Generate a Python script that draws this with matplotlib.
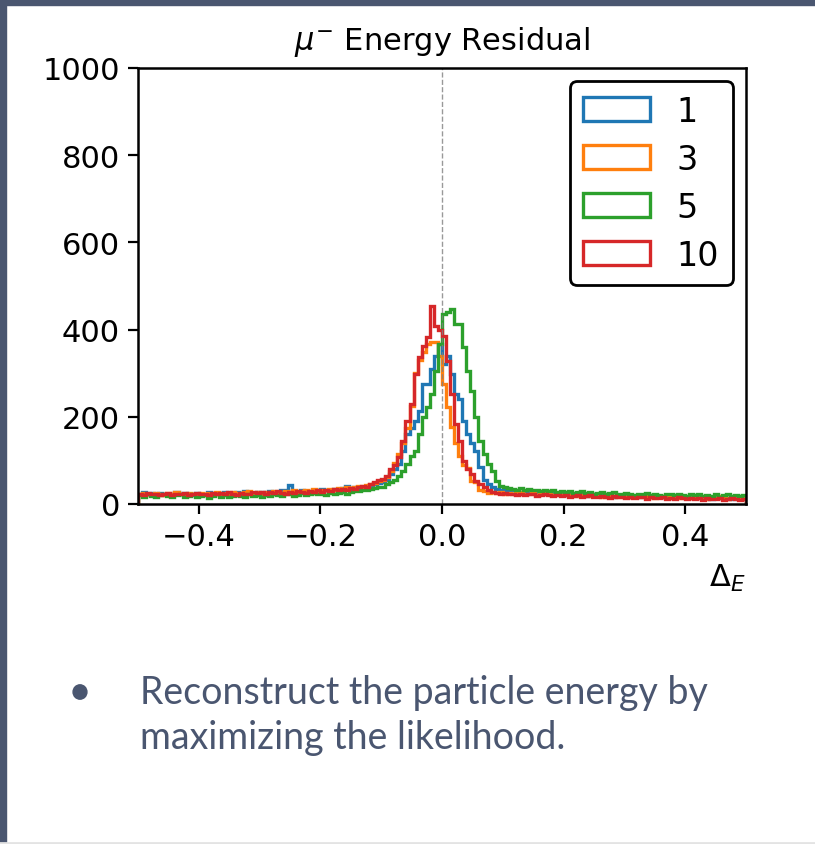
import numpy as np
import matplotlib
matplotlib.use("Agg")
import matplotlib.pyplot as plt
from matplotlib.patches import Rectangle, Circle
from matplotlib.lines import Line2D

# Histogram counts (150 bins on [-0.5, 0.5])
bin_edges = np.linspace(-0.5, 0.5, 151)

counts_1 = [
    24, 27, 22, 25, 21, 26, 23, 20, 24, 27, 22, 25, 23, 21, 26,
    24, 22, 27, 25, 23, 26, 28, 24, 22, 27, 25, 29, 26, 24, 28,
    27, 25, 30, 28, 26, 31, 33, 43, 29, 27, 32, 30, 28, 33, 31,
    34, 32, 30, 35, 33, 36, 41, 34, 38, 36, 40, 38, 42, 45, 47,
    50, 55, 69, 80, 92, 121, 160, 175, 190, 213, 275, 275, 309, 340, 366,
    321, 339, 298, 252, 240, 190, 160, 140, 121, 85, 55, 45, 39, 35, 33,
    31, 29, 32, 28, 26, 29, 27, 25, 28, 24, 26, 23, 25, 22, 24,
    21, 23, 20, 24, 22, 19, 21, 23, 18, 20, 22, 19, 17, 21, 18,
    20, 17, 19, 16, 18, 20, 15, 17, 19, 16, 14, 18, 16, 15, 17,
    14, 16, 13, 15, 17, 14, 12, 15, 13, 16, 14, 12, 15, 13, 14,
]

counts_3 = [
    22, 25, 23, 20, 26, 24, 21, 25, 22, 27, 23, 20, 25, 24, 22,
    26, 23, 25, 21, 27, 24, 26, 22, 28, 25, 23, 27, 30, 25, 27,
    24, 28, 26, 29, 27, 25, 30, 28, 31, 27, 29, 32, 28, 34, 30,
    33, 31, 35, 32, 36, 34, 38, 36, 40, 42, 39, 44, 46, 49, 52,
    55, 62, 75, 95, 115, 140, 175, 225, 300, 330, 348, 367, 371, 371, 340,
    275, 222, 176, 140, 110, 90, 82, 53, 50, 32, 30, 26, 28, 25, 27,
    24, 26, 23, 25, 27, 22, 24, 26, 21, 23, 25, 22, 20, 23, 21,
    24, 20, 22, 19, 21, 23, 18, 20, 22, 17, 19, 21, 18, 16, 19,
    17, 20, 16, 18, 15, 19, 17, 14, 18, 16, 21, 15, 17, 14, 16,
    15, 13, 17, 14, 16, 12, 15, 13, 18, 14, 12, 16, 13, 11, 14,
]

counts_5 = [
    20, 17, 23, 19, 16, 21, 24, 18, 15, 20, 22, 17, 19, 23, 16,
    18, 21, 14, 19, 22, 17, 20, 15, 18, 21, 19, 16, 22, 18, 20,
    17, 21, 19, 23, 20, 18, 22, 24, 19, 21, 25, 20, 23, 26, 22,
    24, 21, 26, 23, 25, 28, 24, 27, 30, 29, 31, 33, 34, 36, 38,
    40, 45, 50, 55, 65, 76, 92, 110, 121, 160, 199, 222, 252, 305, 366,
    435, 440, 447, 412, 412, 360, 305, 259, 199, 144, 115, 92, 76, 53, 41,
    39, 37, 35, 33, 36, 32, 34, 31, 33, 30, 32, 29, 31, 28, 30,
    27, 29, 26, 28, 30, 25, 27, 24, 26, 28, 23, 25, 27, 24, 22,
    25, 23, 21, 24, 22, 26, 20, 23, 21, 19, 24, 22, 20, 23, 21,
    19, 22, 20, 24, 18, 21, 19, 23, 17, 20, 22, 18, 21, 19, 20,
]

counts_10 = [
    23, 21, 25, 22, 24, 20, 23, 26, 21, 24, 22, 25, 20, 23, 26,
    22, 24, 21, 26, 23, 25, 22, 27, 24, 21, 26, 24, 23, 27, 25,
    28, 24, 27, 25, 29, 26, 24, 28, 26, 30, 27, 25, 29, 27, 31,
    28, 32, 30, 34, 31, 35, 33, 37, 35, 39, 42, 40, 45, 50, 55,
    58, 65, 80, 90, 107, 144, 190, 229, 297, 337, 362, 382, 454, 408, 400,
    385, 327, 252, 183, 144, 98, 80, 68, 53, 45, 39, 33, 28, 26, 24,
    25, 22, 24, 21, 23, 20, 22, 24, 19, 21, 23, 20, 18, 21, 19,
    20, 17, 19, 21, 16, 18, 20, 15, 17, 19, 16, 14, 18, 15, 17,
    14, 16, 13, 17, 15, 12, 16, 14, 13, 15, 11, 14, 12, 15, 13,
    12, 14, 11, 13, 10, 14, 12, 11, 13, 10, 12, 14, 11, 10, 12,
]

series = [("1", counts_1), ("3", counts_3), ("5", counts_5), ("10", counts_10)]

x_ticks = [-0.4, -0.2, 0.0, 0.2, 0.4]
y_ticks = [0, 200, 400, 600, 800, 1000]

bullet_lines = ["Reconstruct the particle energy by", "maximizing the likelihood."]

slate = "#4a5670"

fig = plt.figure(figsize=(8.15, 8.45), dpi=100)
ax = fig.add_axes([0.1693, 0.4024, 0.746, 0.516])

fs = 22
for label, counts in series:
    ax.hist(bin_edges[:-1], bins=bin_edges, weights=counts,
            histtype="step", linewidth=2.4, label=label)

ax.axvline(0, color="gray", linestyle="--", linewidth=1.0, alpha=0.8)

ax.set_xlim(-0.5, 0.5)
ax.set_ylim(0, 1000)
ax.set_xticks(x_ticks)
ax.set_yticks(y_ticks)
ax.tick_params(labelsize=fs, length=7, width=1.6, pad=6)
for sp in ax.spines.values():
    sp.set_linewidth(1.8)

ax.set_title(r"$\mu^{-}$ Energy Residual", fontsize=fs, pad=14)
ax.set_xlabel(r"$\Delta_E$", fontsize=fs, loc="right", labelpad=8)

leg = ax.legend(loc="upper right", fontsize=24, framealpha=1,
                edgecolor="black", borderaxespad=0.4, labelspacing=0.45)
leg.get_frame().set_linewidth(2.0)

# slide decoration
fig.add_artist(Rectangle((0, 1 - 6 / 845), 1, 6 / 845, transform=fig.transFigure,
                         color=slate, zorder=0))
fig.add_artist(Rectangle((0, 0), 6 / 815, 1, transform=fig.transFigure,
                         color=slate, zorder=0))
fig.add_artist(Line2D([0, 1], [1.5 / 845, 1.5 / 845], transform=fig.transFigure,
                      color="#e3e3e3", linewidth=2))
fig.add_artist(Circle((80 / 815, 1 - 693 / 845), 0.0085, transform=fig.transFigure,
                      color=slate))
for i, line in enumerate(bullet_lines):
    fig.text(140 / 815, 1 - (693 + 45 * i) / 845, line, fontsize=27,
             family="Lato", color=slate, va="center", ha="left")

fig.savefig("out.png", dpi=100)
